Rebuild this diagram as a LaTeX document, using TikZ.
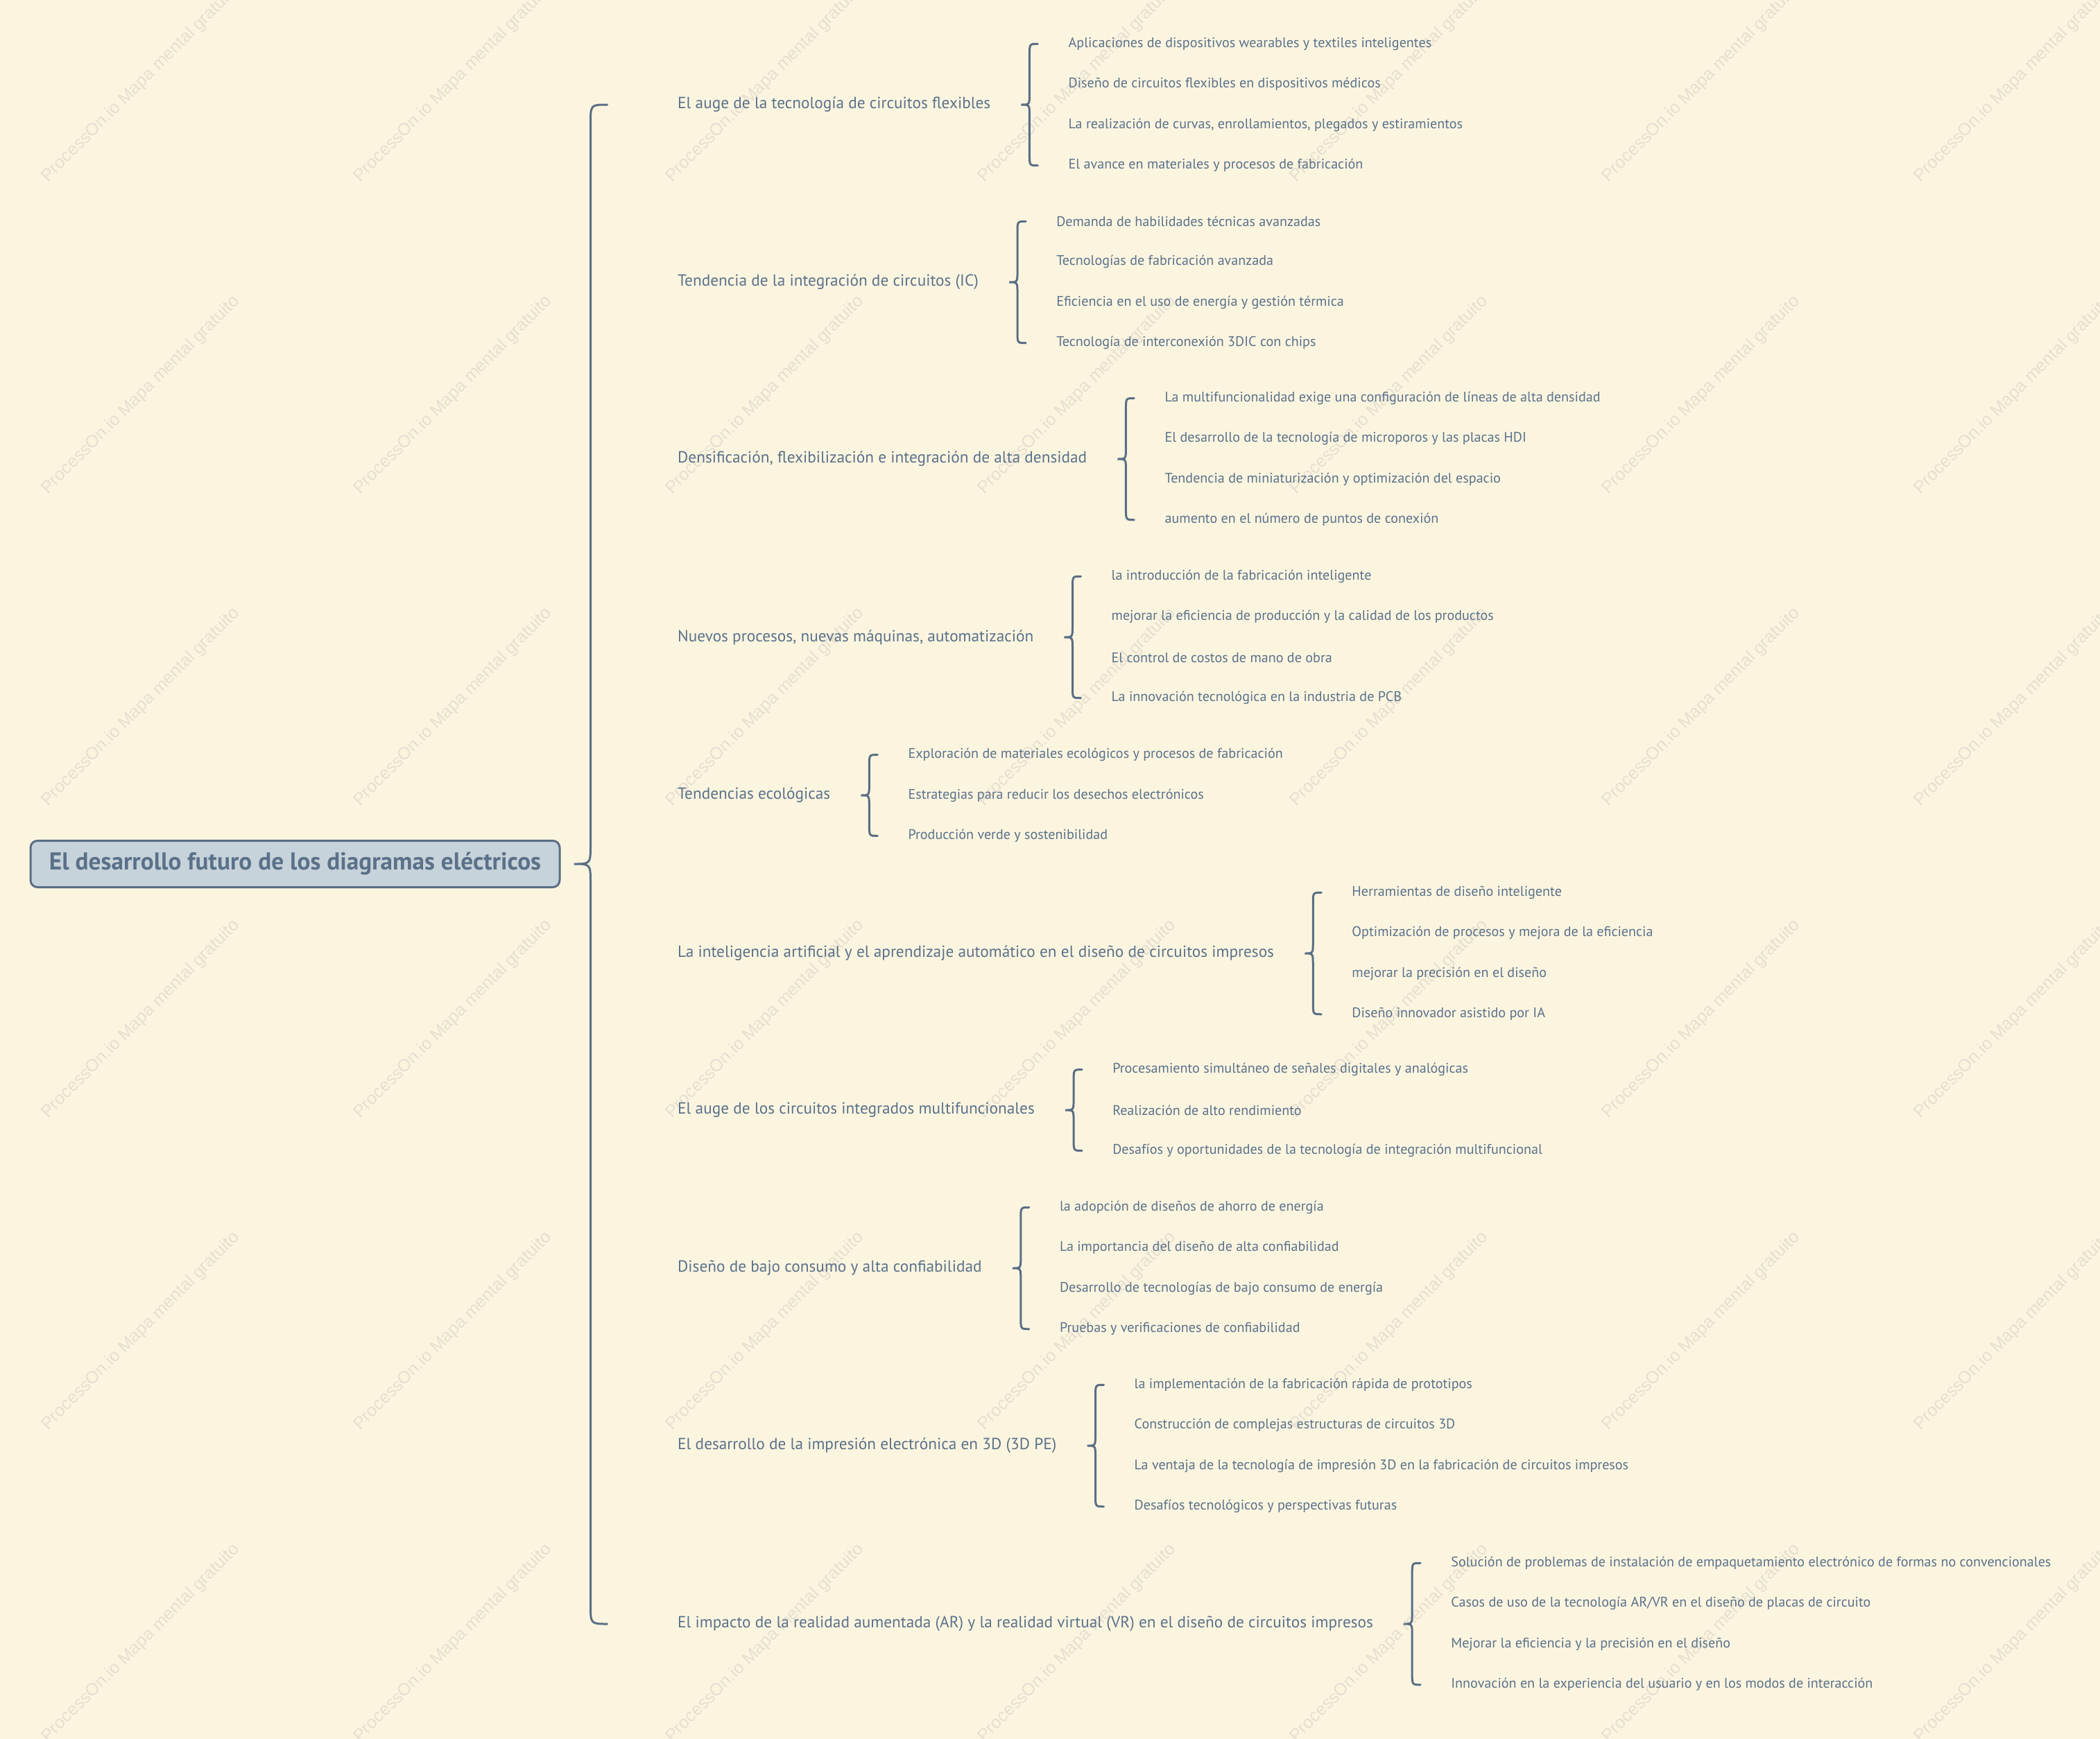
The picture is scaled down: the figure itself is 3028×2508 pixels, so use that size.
\documentclass[tikz,border=0pt]{standalone}
\usepackage{fontspec}
\setmainfont{PT Sans}
\newfontfamily\markfont{Liberation Sans}
\usetikzlibrary{positioning,calc}
\definecolor{paper}{HTML}{FBF5E0}
\definecolor{slate}{HTML}{5A6E84}
\definecolor{inkblue}{HTML}{5B7189}
\definecolor{rootfill}{HTML}{C7D3DA}
\definecolor{wmarkgrey}{HTML}{E6DFD1}

% curly brace: tip, top end, bottom end, half width, bend
\newcommand\curlybrace[5]{%
  \draw[bracket] let \p1=(#1), \p2=(#2), \p3=(#3) in
    (\x1+2*#4,\y2) .. controls (\x1+#4,\y2) .. (\x1+#4,\y2-#5)
    -- (\x1+#4,\y1+#5) .. controls (\x1+#4,\y1) .. (\x1,\y1)
    .. controls (\x1+#4,\y1) .. (\x1+#4,\y1-#5)
    -- (\x1+#4,\y3+#5) .. controls (\x1+#4,\y3) .. (\x1+2*#4,\y3);}

\begin{document}
\begin{tikzpicture}[
    x=1pt, y=-1pt,
    root/.style={draw=slate, line width=3pt, fill=rootfill, rounded corners=10pt, minimum width=763pt, minimum height=67pt, text=inkblue, font=\fontsize{35.3}{40}\selectfont\bfseries},
    branch/.style={anchor=west, inner sep=0pt, text=inkblue, font=\fontsize{23.3}{28}\selectfont},
    leaf/.style={anchor=west, inner sep=0pt, text=inkblue, font=\fontsize{20.1}{24}\selectfont},
    bracket/.style={draw=slate, line width=3pt, line cap=round},
    wmark/.style={rotate=45, text=wmarkgrey, font=\markfont\fontsize{25}{30}\selectfont}
  ]
  \useasboundingbox (0,0) rectangle (3028,2508);
  \fill[paper] (0,0) rectangle (3028,2508);

  % watermark
  \foreach \c in {0,...,6}
    \foreach \r in {0,...,5}
      \node[wmark] (wm-\c-\r) at (203+450*\c, 120+450*\r) {ProcessOn.io Mapa mental gratuito};

  \node[root] (root) at (425.5,1246) {El desarrollo futuro de los diagramas eléctricos};

  \node[branch] (b1) at (977,151) {El auge de la tecnología de circuitos flexibles};
  \node[branch] (b2) at (977,407) {Tendencia de la integración de circuitos (IC)};
  \node[branch] (b3) at (977,662) {Densificación, flexibilización e integración de alta densidad};
  \node[branch] (b4) at (977,919) {Nuevos procesos, nuevas máquinas, automatización};
  \node[branch] (b5) at (977,1147) {Tendencias ecológicas};
  \node[branch] (b6) at (977,1375) {La inteligencia artificial y el aprendizaje automático en el diseño de circuitos impresos};
  \node[branch] (b7) at (977,1601) {El auge de los circuitos integrados multifuncionales};
  \node[branch] (b8) at (977,1829) {Diseño de bajo consumo y alta confiabilidad};
  \node[branch] (b9) at (977,2085) {El desarrollo de la impresión electrónica en 3D (3D PE)};
  \node[branch] (b10) at (977,2342) {El impacto de la realidad aumentada (AR) y la realidad virtual (VR) en el diseño de circuitos impresos};

  \coordinate[right=19pt of root] (tmain);
  \curlybrace{tmain}{b1}{b10}{24pt}{28pt}

  \foreach \b in {1,...,10}
    \coordinate[right=44pt of b\b] (t\b);

  \foreach \txt [count=\i] in {Aplicaciones de dispositivos wearables y textiles inteligentes, Diseño de circuitos flexibles en dispositivos médicos, {La realización de curvas, enrollamientos, plegados y estiramientos}, El avance en materiales y procesos de fabricación}
    \node[leaf] (b1-\i) at ($(t1)+(68,{(\i-2.5)*58.5})$) {\txt};
  \foreach \txt [count=\i] in {Demanda de habilidades técnicas avanzadas, Tecnologías de fabricación avanzada, Eficiencia en el uso de energía y gestión térmica, Tecnología de interconexión 3DIC con chips}
    \node[leaf] (b2-\i) at ($(t2)+(68,{(\i-2.5)*58.5})$) {\txt};
  \foreach \txt [count=\i] in {La multifuncionalidad exige una configuración de líneas de alta densidad, El desarrollo de la tecnología de microporos y las placas HDI, Tendencia de miniaturización y optimización del espacio, aumento en el número de puntos de conexión}
    \node[leaf] (b3-\i) at ($(t3)+(68,{(\i-2.5)*58.5})$) {\txt};
  \foreach \txt [count=\i] in {la introducción de la fabricación inteligente, mejorar la eficiencia de producción y la calidad de los productos, El control de costos de mano de obra, La innovación tecnológica en la industria de PCB}
    \node[leaf] (b4-\i) at ($(t4)+(68,{(\i-2.5)*58.5})$) {\txt};
  \foreach \txt [count=\i] in {Exploración de materiales ecológicos y procesos de fabricación, Estrategias para reducir los desechos electrónicos, Producción verde y sostenibilidad}
    \node[leaf] (b5-\i) at ($(t5)+(68,{(\i-2)*58.5})$) {\txt};
  \foreach \txt [count=\i] in {Herramientas de diseño inteligente, Optimización de procesos y mejora de la eficiencia, mejorar la precisión en el diseño, Diseño innovador asistido por IA}
    \node[leaf] (b6-\i) at ($(t6)+(68,{(\i-2.5)*58.5})$) {\txt};
  \foreach \txt [count=\i] in {Procesamiento simultáneo de señales digitales y analógicas, Realización de alto rendimiento, Desafíos y oportunidades de la tecnología de integración multifuncional}
    \node[leaf] (b7-\i) at ($(t7)+(68,{(\i-2)*58.5})$) {\txt};
  \foreach \txt [count=\i] in {la adopción de diseños de ahorro de energía, La importancia del diseño de alta confiabilidad, Desarrollo de tecnologías de bajo consumo de energía, Pruebas y verificaciones de confiabilidad}
    \node[leaf] (b8-\i) at ($(t8)+(68,{(\i-2.5)*58.5})$) {\txt};
  \foreach \txt [count=\i] in {la implementación de la fabricación rápida de prototipos, Construcción de complejas estructuras de circuitos 3D, La ventaja de la tecnología de impresión 3D en la fabricación de circuitos impresos, Desafíos tecnológicos y perspectivas futuras}
    \node[leaf] (b9-\i) at ($(t9)+(68,{(\i-2.5)*58.5})$) {\txt};
  \foreach \txt [count=\i] in {Solución de problemas de instalación de empaquetamiento electrónico de formas no convencionales, Casos de uso de la tecnología AR/VR en el diseño de placas de circuito, Mejorar la eficiencia y la precisión en el diseño, Innovación en la experiencia del usuario y en los modos de interacción}
    \node[leaf] (b10-\i) at ($(t10)+(68,{(\i-2.5)*58.5})$) {\txt};

  \curlybrace{t1}{b1-1}{b1-4}{12pt}{16pt}
  \curlybrace{t2}{b2-1}{b2-4}{12pt}{16pt}
  \curlybrace{t3}{b3-1}{b3-4}{12pt}{16pt}
  \curlybrace{t4}{b4-1}{b4-4}{12pt}{16pt}
  \curlybrace{t5}{b5-1}{b5-3}{12pt}{16pt}
  \curlybrace{t6}{b6-1}{b6-4}{12pt}{16pt}
  \curlybrace{t7}{b7-1}{b7-3}{12pt}{16pt}
  \curlybrace{t8}{b8-1}{b8-4}{12pt}{16pt}
  \curlybrace{t9}{b9-1}{b9-4}{12pt}{16pt}
  \curlybrace{t10}{b10-1}{b10-4}{12pt}{16pt}
\end{tikzpicture}
\end{document}
